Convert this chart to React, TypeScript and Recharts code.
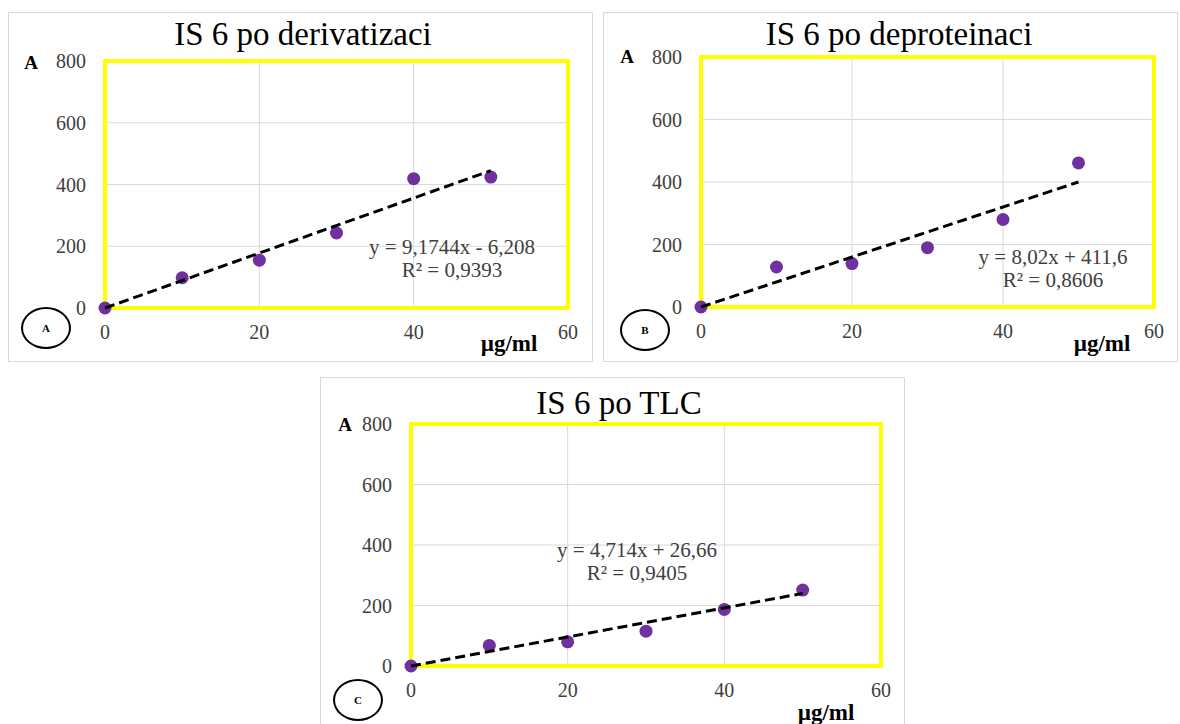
import React from 'react'
import {
  ScatterChart,
  Scatter,
  XAxis,
  YAxis,
  CartesianGrid,
  ReferenceArea,
} from 'recharts'

// koncentrace (µg/ml)
const X_VALUES = [0, 10, 20, 30, 40, 50]
const X_TICKS = [0, 20, 40, 60]
const Y_TICKS = [0, 200, 400, 600, 800]

// odezva A
const DERIVATIZACE = [0, 98, 155, 243, 419, 424]
const DEPROTEINACE = [0, 128, 139, 190, 280, 461]
const TLC = [0, 68, 80, 115, 187, 251]

// spojnice trendu (začátek, konec)
const TREND_X = [0, 50]
const TREND_DERIVATIZACE = [0, 445]
const TREND_DEPROTEINACE = [0, 400]
const TREND_TLC = [0, 240]

const TITLES = ['IS 6 po derivatizaci', 'IS 6 po deproteinaci', 'IS 6 po TLC']
const EQUATIONS = ['y = 9,1744x - 6,208', 'y = 8,02x + 411,6', 'y = 4,714x + 26,66']
const R2 = ['R² = 0,9393', 'R² = 0,8606', 'R² = 0,9405']
const MARKS = ['A', 'B', 'C']

const FONT = '"Liberation Serif", "Times New Roman", serif'
const PURPLE = '#7030A0'
const YELLOW = '#FFFF00'

const PANELS = [
  {
    values: DERIVATIZACE,
    trend: TREND_DERIVATIZACE,
    box: { left: 8, top: 12, width: 585, height: 350 },
    plot: { left: 105, right: 568, top: 61, bottom: 308 },
    titlePos: [303, 34],
    aPos: [31, 62],
    unitPos: [509, 343],
    circlePos: [46, 328],
    eqPos: [452, 247],
  },
  {
    values: DEPROTEINACE,
    trend: TREND_DEPROTEINACE,
    box: { left: 603, top: 12, width: 575, height: 350 },
    plot: { left: 701, right: 1154, top: 57, bottom: 307 },
    titlePos: [899, 34],
    aPos: [627, 56],
    unitPos: [1102, 343],
    circlePos: [645, 330],
    eqPos: [1053, 257],
  },
  {
    values: TLC,
    trend: TREND_TLC,
    box: { left: 320, top: 377, width: 585, height: 350 },
    plot: { left: 411, right: 881, top: 424, bottom: 666 },
    titlePos: [619, 403],
    aPos: [345, 424],
    unitPos: [826, 712],
    circlePos: [358, 700],
    eqPos: [637, 550],
  },
]

const centered = (x: number, y: number): React.CSSProperties => ({
  position: 'absolute',
  left: x,
  top: y,
  transform: 'translate(-50%, -50%)',
  whiteSpace: 'nowrap',
  lineHeight: 1,
  fontFamily: FONT,
})

const Dot = (props: any) => <circle cx={props.cx} cy={props.cy} r={6.5} fill={PURPLE} />
const NoDot = () => <g />

const XTick = (props: any) => (
  <text
    x={props.x}
    y={props.y}
    dy="0.71em"
    textAnchor="middle"
    fill="#404040"
    fontSize={20}
    fontFamily="Liberation Serif"
  >
    {props.payload.value}
  </text>
)

const YTick = (props: any) => (
  <text
    x={props.x}
    y={props.y}
    dy="0.355em"
    textAnchor="end"
    fill="#404040"
    fontSize={20}
    fontFamily="Liberation Serif"
  >
    {props.payload.value}
  </text>
)

function Panel({ index }: { index: number }) {
  const p = PANELS[index]
  const { box, plot } = p
  const points = X_VALUES.map((x, i) => ({ x, y: p.values[i] }))
  const trend = TREND_X.map((x, i) => ({ x, y: p.trend[i] }))

  return (
    <>
      <div
        style={{
          position: 'absolute',
          left: box.left,
          top: box.top,
          width: box.width,
          height: box.height,
          border: '1px solid #d9d9d9',
          boxSizing: 'border-box',
          background: '#fff',
        }}
      />
      <div style={{ position: 'absolute', left: box.left, top: box.top }}>
        <ScatterChart
          width={box.width}
          height={box.height}
          margin={{
            top: plot.top - box.top,
            right: box.left + box.width - plot.right,
            left: 0,
            bottom: 0,
          }}
        >
          <CartesianGrid stroke="#d9d9d9" strokeWidth={1} />
          <XAxis
            type="number"
            dataKey="x"
            domain={[0, 60]}
            ticks={X_TICKS}
            axisLine={false}
            tickLine={false}
            tickSize={0}
            tickMargin={17}
            height={box.top + box.height - plot.bottom}
            tick={<XTick />}
            interval={0}
          />
          <YAxis
            type="number"
            dataKey="y"
            domain={[0, 800]}
            ticks={Y_TICKS}
            axisLine={false}
            tickLine={false}
            tickSize={0}
            tickMargin={19}
            width={plot.left - box.left}
            tick={<YTick />}
            interval={0}
          />
          <ReferenceArea
            x1={0}
            x2={60}
            y1={0}
            y2={800}
            fill="none"
            fillOpacity={0}
            stroke={YELLOW}
            strokeWidth={4}
            strokeOpacity={1}
          />
          <Scatter data={points} shape={Dot} isAnimationActive={false} />
          <Scatter
            data={trend}
            shape={NoDot}
            line={{ stroke: '#000', strokeWidth: 3, strokeDasharray: '10 5' }}
            isAnimationActive={false}
          />
        </ScatterChart>
      </div>
      <div style={{ ...centered(p.titlePos[0], p.titlePos[1]), fontSize: 33, color: '#000' }}>
        {TITLES[index]}
      </div>
      <div style={{ ...centered(p.aPos[0], p.aPos[1]), fontSize: 19, fontWeight: 'bold', color: '#000' }}>A</div>
      <div style={{ ...centered(p.unitPos[0], p.unitPos[1]), fontSize: 23, fontWeight: 'bold', color: '#000' }}>
        µg/ml
      </div>
      <div style={{ ...centered(p.eqPos[0], p.eqPos[1]), fontSize: 21, color: '#404040' }}>{EQUATIONS[index]}</div>
      <div style={{ ...centered(p.eqPos[0], p.eqPos[1] + 23), fontSize: 21, color: '#404040' }}>{R2[index]}</div>
      <div
        style={{
          ...centered(p.circlePos[0], p.circlePos[1]),
          width: 50,
          height: 42,
          border: '2px solid #000',
          borderRadius: '50%',
          boxSizing: 'border-box',
          display: 'flex',
          alignItems: 'center',
          justifyContent: 'center',
          fontSize: 11,
          fontWeight: 'bold',
          background: '#fff',
        }}
      >
        {MARKS[index]}
      </div>
    </>
  )
}

export default function App() {
  return (
    <div
      style={{
        position: 'absolute',
        left: 0,
        top: 0,
        width: 1180,
        height: 724,
        overflow: 'hidden',
        background: '#fff',
        fontFamily: FONT,
      }}
    >
      <Panel index={0} />
      <Panel index={1} />
      <Panel index={2} />
    </div>
  )
}
